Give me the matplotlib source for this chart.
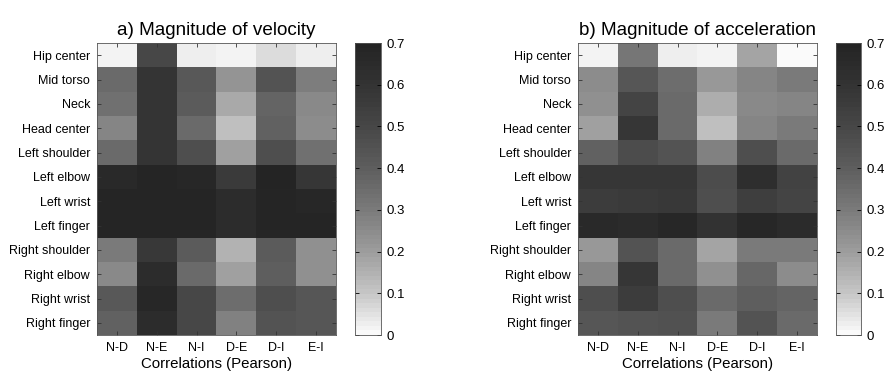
import numpy as np
import matplotlib.pyplot as plt
from matplotlib.colors import LinearSegmentedColormap

plt.rcParams['font.family'] = ['Liberation Sans', 'DejaVu Sans']

joints = ["Hip center", "Mid torso", "Neck", "Head center", "Left shoulder",
          "Left elbow", "Left wrist", "Left finger", "Right shoulder",
          "Right elbow", "Right wrist", "Right finger"]
pairs = ["N-D", "N-E", "N-I", "D-E", "D-I", "E-I"]

# Pearson correlations, rows = joints, columns = pairs
velocity = [
    [0.02, 0.50, 0.03, 0.02, 0.06, 0.03],
    [0.35, 0.60, 0.42, 0.22, 0.44, 0.29],
    [0.33, 0.60, 0.41, 0.17, 0.38, 0.26],
    [0.27, 0.60, 0.35, 0.12, 0.39, 0.25],
    [0.35, 0.60, 0.46, 0.19, 0.46, 0.33],
    [0.66, 0.68, 0.67, 0.56, 0.69, 0.59],
    [0.68, 0.68, 0.68, 0.64, 0.68, 0.67],
    [0.68, 0.68, 0.68, 0.64, 0.68, 0.68],
    [0.30, 0.57, 0.41, 0.15, 0.41, 0.24],
    [0.26, 0.64, 0.35, 0.19, 0.40, 0.23],
    [0.42, 0.67, 0.50, 0.34, 0.46, 0.43],
    [0.39, 0.64, 0.50, 0.28, 0.44, 0.43],
]
acceleration = [
    [0.02, 0.31, 0.03, 0.02, 0.18, 0.00],
    [0.25, 0.43, 0.34, 0.21, 0.27, 0.30],
    [0.23, 0.51, 0.36, 0.16, 0.26, 0.27],
    [0.19, 0.59, 0.35, 0.11, 0.27, 0.30],
    [0.39, 0.48, 0.44, 0.28, 0.46, 0.35],
    [0.58, 0.59, 0.59, 0.48, 0.63, 0.52],
    [0.55, 0.56, 0.57, 0.46, 0.54, 0.51],
    [0.66, 0.65, 0.67, 0.61, 0.67, 0.65],
    [0.21, 0.44, 0.35, 0.18, 0.30, 0.30],
    [0.27, 0.58, 0.36, 0.23, 0.37, 0.25],
    [0.47, 0.55, 0.47, 0.35, 0.40, 0.38],
    [0.43, 0.44, 0.45, 0.30, 0.44, 0.35],
]

# grey scale, light at 0 and near black at 0.7
cmap = LinearSegmentedColormap.from_list(
    "wgray",
    [(0.0, "#fafafa"), (1 / 7, "#c4c4c4"), (2 / 7, "#9c9c9c"),
     (3 / 7, "#7a7a7a"), (4 / 7, "#5e5e5e"), (5 / 7, "#474747"),
     (6 / 7, "#343434"), (1.0, "#242424")], N=64)

W, H = 884, 376
fig = plt.figure(figsize=(W / 100, H / 100), dpi=100)


def px_axes(x0, x1, y0, y1):
    return fig.add_axes([x0 / W, 1 - y1 / H, (x1 - x0) / W, (y1 - y0) / H])


def draw_panel(data, title, ax_x, cb_x):
    ax = px_axes(ax_x[0], ax_x[1], 43, 335)
    im = ax.imshow(np.array(data), cmap=cmap, vmin=0, vmax=0.7,
                   aspect='auto', interpolation='nearest')
    ax.set_xticks(range(len(pairs)))
    ax.set_xticklabels(pairs, fontsize=9)
    ax.set_yticks(range(len(joints)))
    ax.set_yticklabels(joints, fontsize=9)
    ax.tick_params(direction='in', length=3, width=0.6, color='#333333',
                   top=True, right=True, pad=5)
    for s in ax.spines.values():
        s.set_linewidth(0.6)
        s.set_color('#555555')
    ax.set_xlabel("Correlations (Pearson)", fontsize=10.8, labelpad=2)
    ax.set_title(title, fontsize=13.6, pad=6)

    cax = px_axes(cb_x[0], cb_x[1], 43, 335)
    cb = fig.colorbar(im, cax=cax)
    cb.set_ticks(np.arange(0, 0.71, 0.1))
    cb.ax.set_yticklabels(["0", "0.1", "0.2", "0.3", "0.4", "0.5", "0.6", "0.7"])
    cb.ax.tick_params(direction='in', length=3, width=0.6, labelsize=9.5,
                      left=True, right=True, pad=4)
    cb.outline.set_linewidth(0.6)
    cb.outline.set_edgecolor('#555555')


draw_panel(velocity, "a) Magnitude of velocity", (97, 336), (355, 381))
draw_panel(acceleration, "b) Magnitude of acceleration", (578, 817), (836, 861))

fig.savefig("out.png", dpi=100)
